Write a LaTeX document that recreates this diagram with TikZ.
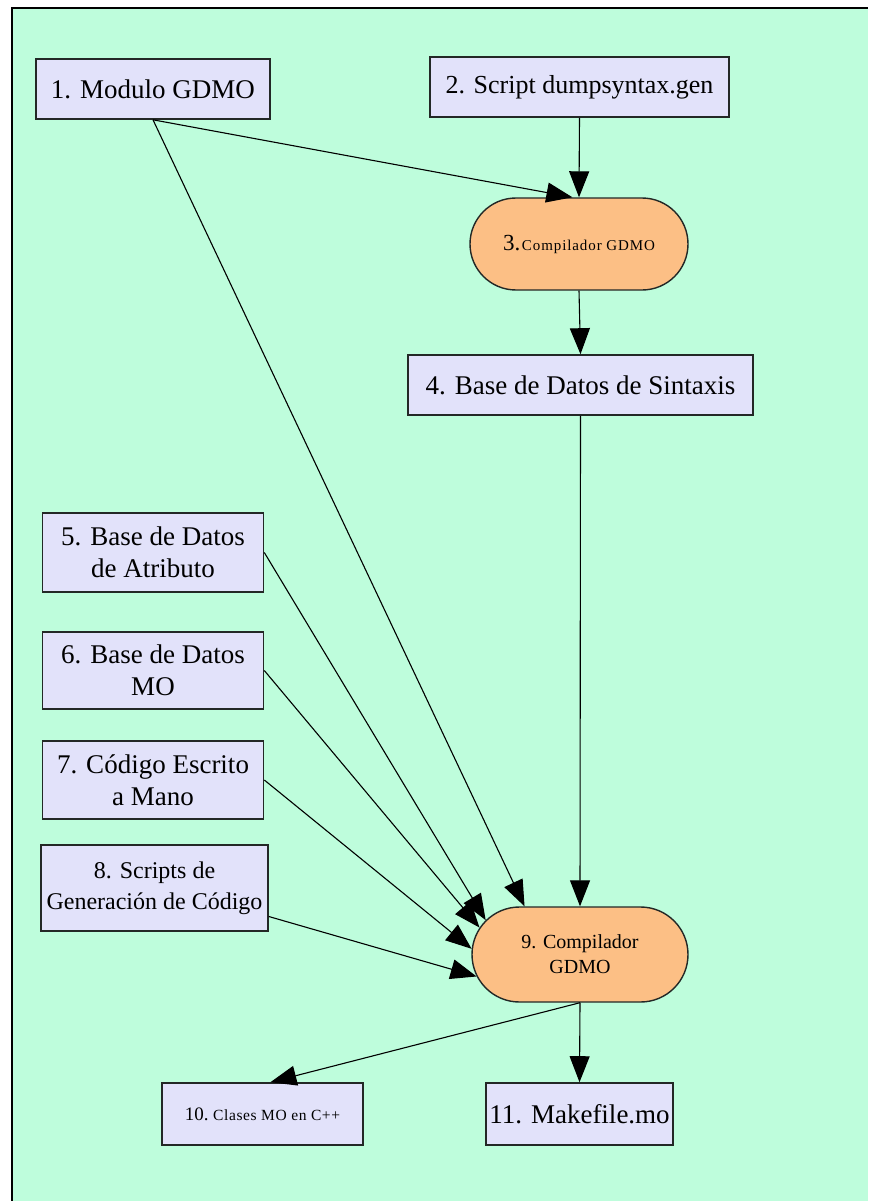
\documentclass[tikz,border=0pt]{standalone}
\usepackage{fontspec}
\setmainfont{Liberation Serif}
\usetikzlibrary{arrows.meta,shapes.misc}
\definecolor{mint}{RGB}{190,253,220}
\definecolor{lav}{RGB}{226,226,250}
\definecolor{peach}{RGB}{252,191,133}
\definecolor{edgegray}{RGB}{35,40,38}
\begin{document}
\begin{tikzpicture}[x=1pt,y=-1pt,
  box/.style={draw=edgegray,line width=1.6pt,fill=lav,inner sep=0pt,align=center,
    font=\fontsize{27}{32}\selectfont},
  proc/.style={draw=edgegray,line width=1.4pt,fill=peach,rounded rectangle,inner sep=0pt,align=center},
  link/.style={line width=1.1pt,-{Triangle[length=26pt,width=20pt]}}]
\useasboundingbox (0,0) rectangle (868,1201);
\fill[white] (0,0) rectangle (868,1201);
\fill[mint] (12,8) rectangle (868,1201);
\draw[line width=2pt] (12,1201) -- (12,8) -- (868,8);

% sources and intermediate products
\node[box,minimum width=234pt,minimum height=60pt] (b1) at (153,89) {1. Modulo GDMO};
\node[box,minimum width=299pt,minimum height=60pt,font=\fontsize{26}{30}\selectfont] (b2) at (579.5,87)
  {2. Script dumpsyntax.gen};
\node[proc,minimum width=218pt,minimum height=92pt] (n3) at (579,244)
  {{\fontsize{23}{26}\selectfont 3.}\,{\fontsize{15}{17}\selectfont\addfontfeature{LetterSpace=6}Compilador GDMO}};
\node[box,minimum width=345pt,minimum height=60pt] (b4) at (580.5,385) {4. Base de Datos de Sintaxis};
\node[box,minimum width=221pt,minimum height=79pt] (b5) at (153,552.5) {5. Base de Datos\\de Atributo};
\node[box,minimum width=221pt,minimum height=77pt] (b6) at (153,670.5) {6. Base de Datos\\MO};
\node[box,minimum width=221pt,minimum height=78pt] (b7) at (153,780) {7. Código Escrito\\a Mano};
\node[box,minimum width=227pt,minimum height=86pt,font=\fontsize{24}{31}\selectfont] (b8) at (154.5,888)
  {8. Scripts de\\Generación de Código};
\node[proc,minimum width=216pt,minimum height=95pt,font=\fontsize{20}{25}\selectfont] (n9) at (580,954.5)
  {9. Compilador\\GDMO};
\node[box,minimum width=201pt,minimum height=62pt] (b10) at (262.5,1114)
  {{\fontsize{19}{22}\selectfont 10.}\,{\fontsize{15.5}{18}\selectfont\addfontfeature{LetterSpace=4}Clases MO en C++}};
\node[box,minimum width=187pt,minimum height=62pt] (b11) at (579.5,1114) {11. Makefile.mo};

% connectors
\draw[link] (b1.south) -- (n3.98);
\draw[link] (b1.south) -- (n9.139.7);
\draw[link] (b2.south) -- (n3.north);
\draw[link] (n3.south) -- (b4.north);
\draw[link] (b4.south) -- (n9.north);
\draw[link] (b5.east) -- (n9.160.3);
\draw[link] (b6.east) -- (n9.165.5);
\draw[link] (b7.east) -- (n9.177.3);
\draw[link] (b8.-14) -- (n9.192.7);
\draw[link] (n9.south) -- (b10.76);
\draw[link] (n9.south) -- (b11.north);
\end{tikzpicture}
\end{document}
